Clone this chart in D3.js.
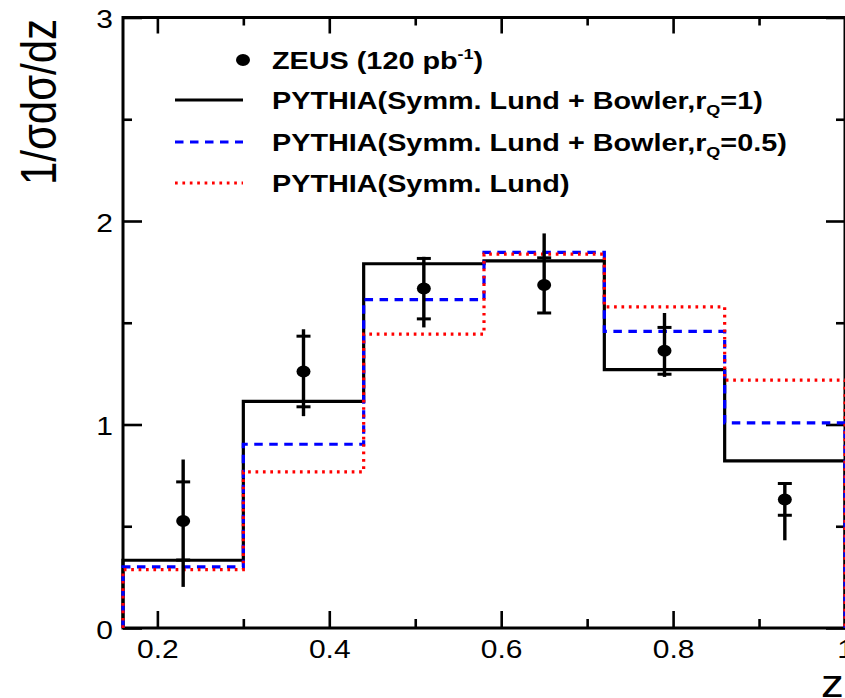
<!DOCTYPE html>
<html>
<head>
<meta charset="utf-8">
<script src="https://cdn.jsdelivr.net/npm/d3@7"></script>
<style>
  body { margin: 0; background: #fff; }
  text { font-family: "Liberation Sans", Arial, Helvetica, sans-serif; fill: #000; }
</style>
</head>
<body>
<svg id="chart" width="845" height="698"></svg>
<script>
// Bin edges in z and the bin centres where the measured points sit
const binEdges = [0.16, 0.30, 0.44, 0.58, 0.72, 0.86, 1.00];
const zCenters = [0.23, 0.37, 0.51, 0.65, 0.79, 0.93];

// ZEUS measurement with statistical (inner ticks) and total (bar ends) uncertainties
const zeusValues   = [0.526, 1.260, 1.668, 1.685, 1.362, 0.631];
const statErrUp    = [0.192, 0.174, 0.148, 0.134, 0.115, 0.079];
const statErrDown  = [0.192, 0.173, 0.149, 0.137, 0.115, 0.077];
const totalErrUp   = [0.302, 0.208, 0.156, 0.254, 0.186, 0.079];
const totalErrDown = [0.324, 0.219, 0.191, 0.137, 0.128, 0.200];

// PYTHIA predictions per bin
const pythiaBowler1  = [0.333, 1.114, 1.790, 1.804, 1.270, 0.821];
const pythiaBowler05 = [0.300, 0.903, 1.614, 1.846, 1.458, 1.008];
const pythiaLund     = [0.287, 0.767, 1.444, 1.837, 1.578, 1.218];

// Axis ticks
const xMajorTicks = [0.2, 0.4, 0.6, 0.8, 1.0];
const xTickLabels = ["0.2", "0.4", "0.6", "0.8", "1"];
const xMinorTicks = [0.3, 0.5, 0.7, 0.9];
const yMajorTicks = [0, 1, 2, 3];
const yTickLabels = ["0", "1", "2", "3"];
const yMinorTicks = [0.5, 1.5, 2.5];

const svg = d3.select("#chart");
const plotLeft = 123, plotRight = 845, plotTop = 17.5, plotBottom = 628;
const x = d3.scaleLinear().domain([0.16, 1.0]).range([plotLeft, plotRight]);
const y = d3.scaleLinear().domain([0, 3]).range([plotBottom, plotTop]);
const stretch = "scale(1.2,1)";

// Frame
svg.append("rect")
  .attr("x", plotLeft).attr("y", plotTop)
  .attr("width", plotRight - plotLeft).attr("height", plotBottom - plotTop)
  .attr("fill", "none").attr("stroke", "#000").attr("stroke-width", 3);

function styleAxis(g) {
  g.select(".domain").remove();
  g.selectAll(".tick line").attr("stroke", "#000").attr("stroke-width", 2.6);
}

// Bottom axis: labels + inward major ticks
const xFmt = d => xTickLabels[xMajorTicks.indexOf(d)];
svg.append("g").attr("transform", `translate(0,${plotBottom})`)
  .call(d3.axisBottom(x).tickValues(xMajorTicks).tickSizeInner(-17).tickSizeOuter(0).tickFormat(xFmt))
  .call(styleAxis)
  .call(g => g.selectAll(".tick text")
    .attr("y", 30).attr("dy", null)
    .attr("font-size", 25).attr("fill", "#000")
    .attr("transform", stretch));
svg.append("g").attr("transform", `translate(0,${plotBottom})`)
  .call(d3.axisBottom(x).tickValues(xMinorTicks).tickSizeInner(-9).tickSizeOuter(0).tickFormat(""))
  .call(styleAxis);

// Top axis (ticks only)
svg.append("g").attr("transform", `translate(0,${plotTop})`)
  .call(d3.axisTop(x).tickValues(xMajorTicks).tickSizeInner(-16).tickSizeOuter(0).tickFormat(""))
  .call(styleAxis);
svg.append("g").attr("transform", `translate(0,${plotTop})`)
  .call(d3.axisTop(x).tickValues(xMinorTicks).tickSizeInner(-8).tickSizeOuter(0).tickFormat(""))
  .call(styleAxis);

// Left axis
const yFmt = d => yTickLabels[yMajorTicks.indexOf(d)];
svg.append("g").attr("transform", `translate(${plotLeft},0)`)
  .call(d3.axisLeft(y).tickValues(yMajorTicks).tickSizeInner(-19).tickSizeOuter(0).tickFormat(yFmt))
  .call(styleAxis)
  .call(g => g.selectAll(".tick text")
    .attr("x", -8.5).attr("y", 10).attr("dy", null)
    .attr("font-size", 25).attr("fill", "#000")
    .attr("transform", stretch));
svg.append("g").attr("transform", `translate(${plotLeft},0)`)
  .call(d3.axisLeft(y).tickValues(yMinorTicks).tickSizeInner(-9).tickSizeOuter(0).tickFormat(""))
  .call(styleAxis);

// Right axis (ticks only)
svg.append("g").attr("transform", `translate(${plotRight},0)`)
  .call(d3.axisRight(y).tickValues(yMajorTicks).tickSizeInner(-19).tickSizeOuter(0).tickFormat(""))
  .call(styleAxis);
svg.append("g").attr("transform", `translate(${plotRight},0)`)
  .call(d3.axisRight(y).tickValues(yMinorTicks).tickSizeInner(-9).tickSizeOuter(0).tickFormat(""))
  .call(styleAxis);

// Histogram outlines, starting and ending on the baseline
function stepPoints(vals) {
  const pts = [[binEdges[0], 0]];
  vals.forEach((v, i) => { pts.push([binEdges[i], v]); pts.push([binEdges[i + 1], v]); });
  pts.push([binEdges[binEdges.length - 1], 0]);
  return pts;
}
const line = d3.line().x(d => x(d[0])).y(d => y(d[1]));

const histos = [
  { vals: pythiaBowler1,  color: "#000000", dash: null,      width: 3.2 },
  { vals: pythiaBowler05, color: "#0000ff", dash: "8.5,6.5", width: 3.2 },
  { vals: pythiaLund,     color: "#ff0000", dash: "2.7,4.7", width: 3.2 }
];
histos.forEach(h => {
  svg.append("path")
    .attr("d", line(stepPoints(h.vals)))
    .attr("fill", "none")
    .attr("stroke", h.color)
    .attr("stroke-width", h.width)
    .attr("stroke-dasharray", h.dash);
});

// Data points with error bars
const pts = svg.append("g").selectAll("g").data(zeusValues).join("g");
pts.append("line")
  .attr("x1", (d, i) => x(zCenters[i])).attr("x2", (d, i) => x(zCenters[i]))
  .attr("y1", (d, i) => y(d - totalErrDown[i])).attr("y2", (d, i) => y(d + totalErrUp[i]))
  .attr("stroke", "#000").attr("stroke-width", 3.4);
pts.append("line")
  .attr("x1", (d, i) => x(zCenters[i]) - 7).attr("x2", (d, i) => x(zCenters[i]) + 7)
  .attr("y1", (d, i) => y(d + statErrUp[i])).attr("y2", (d, i) => y(d + statErrUp[i]))
  .attr("stroke", "#000").attr("stroke-width", 3);
pts.append("line")
  .attr("x1", (d, i) => x(zCenters[i]) - 7).attr("x2", (d, i) => x(zCenters[i]) + 7)
  .attr("y1", (d, i) => y(d - statErrDown[i])).attr("y2", (d, i) => y(d - statErrDown[i]))
  .attr("stroke", "#000").attr("stroke-width", 3);
pts.append("ellipse")
  .attr("cx", (d, i) => x(zCenters[i])).attr("cy", d => y(d))
  .attr("rx", 7).attr("ry", 6).attr("fill", "#000");

// Legend
const legX0 = 175, legX1 = 243, legTextX = 272;
const legend = svg.append("g");
legend.append("ellipse").attr("cx", legX1).attr("cy", 60).attr("rx", 7).attr("ry", 6).attr("fill", "#000");
[
  { yy: 100, color: "#000000", dash: null },
  { yy: 142, color: "#0000ff", dash: "8.5,6.5" },
  { yy: 183, color: "#ff0000", dash: "2.7,4.7" }
].forEach(l => {
  legend.append("line")
    .attr("x1", legX0).attr("x2", legX1).attr("y1", l.yy).attr("y2", l.yy)
    .attr("stroke", l.color).attr("stroke-width", 3.2).attr("stroke-dasharray", l.dash);
});

function legendText(yy) {
  return legend.append("text")
    .attr("transform", `translate(${legTextX},${yy}) ${stretch}`)
    .attr("font-size", 24).attr("font-weight", "bold");
}
const t0 = legendText(69);
t0.append("tspan").text("ZEUS (120 pb");
t0.append("tspan").attr("font-size", 15).attr("dy", -10).text("-1");
t0.append("tspan").attr("dy", 10).text(")");

function pythiaText(yy, main, rq) {
  const t = legendText(yy);
  t.append("tspan").text(main);
  t.append("tspan").attr("font-size", 15).attr("dy", 6).text("Q");
  t.append("tspan").attr("dy", -6).text(rq);
}
pythiaText(109, "PYTHIA(Symm. Lund + Bowler,r", "=1)");
pythiaText(151, "PYTHIA(Symm. Lund + Bowler,r", "=0.5)");
legendText(192).text("PYTHIA(Symm. Lund)");

// Axis titles
svg.append("text")
  .attr("transform", "translate(56,102) rotate(-90) scale(1,1.2)")
  .attr("text-anchor", "middle").attr("font-size", 42)
  .text("1/σdσ/dz");
svg.append("text")
  .attr("transform", `translate(821,697) ${stretch}`)
  .attr("font-size", 38)
  .text("z");
</script>
</body>
</html>
